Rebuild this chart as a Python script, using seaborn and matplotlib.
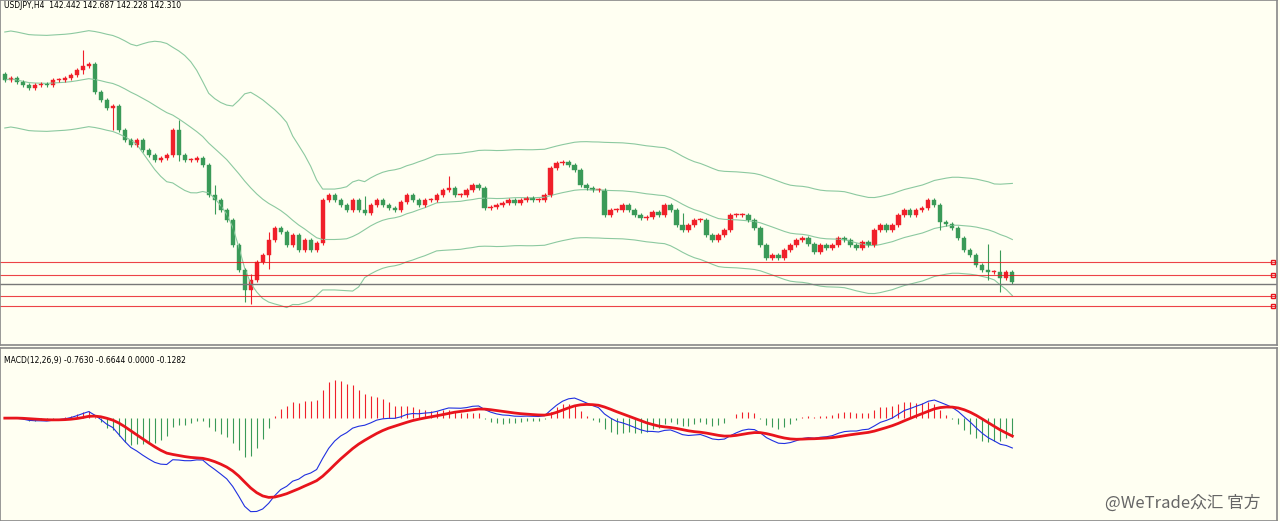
import numpy as np
import pandas as pd
import seaborn as sns
import matplotlib
matplotlib.use("Agg")
import matplotlib.pyplot as plt
from matplotlib import font_manager as fm

# closes (price units)
close_px = [80,78,82,85,88,85,84,85,80,80,78,75,70,66,64,92,100,108,106,130,140,145,140,150,155,160,158,155,130,155,
            160,160,158,165,195,200,210,220,245,270,290,280,262,255,240,228,232,245,235,250,240,250,243,200,195,200,205,210,200,210,
            213,205,200,205,208,210,202,195,200,205,200,200,195,190,188,195,195,190,185,188,208,207,205,203,200,203,200,198,200,200,
            195,168,163,162,165,170,185,188,190,190,215,210,210,205,210,215,218,217,212,215,205,210,225,230,225,220,220,235,240,235,
            230,215,215,215,220,228,245,258,255,258,250,245,240,238,244,252,245,248,245,238,240,245,248,242,245,230,225,230,225,215,
            210,215,210,208,200,205,222,224,228,238,250,255,265,270,272,272,278,272,282]
closes = [round(142.31 + (284 - y) * 0.025, 3) for y in close_px]
first_open = 147.55
long_wicks = {13: (0.35, 0.05), 18: (0.0, 0.5), 29: (0.2, 0.1), 35: (0.2, 0.3), 44: (0.15, 0.3), 60: (0.3, 0.0),
              40: (0.0, 0.25), 41: (0.1, 0.3), 74: (0.25, 0.0), 113: (0.25, 0.0), 156: (0.0, 0.15),
              164: (0.6, 0.15), 166: (0.5, 0.3)}
h_lines_red = [142.86, 142.535, 142.01, 141.76]
h_line_gray = 142.31

cjk = None
for f in fm.fontManager.ttflist:
    if "CJK" in f.name:
        cjk = f.name
        if "SC" in f.name:
            break
fam = [cjk, "DejaVu Sans"] if cjk else ["DejaVu Sans"]

bg = "#fffff2"
fig = plt.figure(figsize=(12.8, 5.21), dpi=100, facecolor=bg)
ax = fig.add_axes([0.0, 1 - 345/521, 0.998, 345/521])
ax2 = fig.add_axes([0.0, 0.0, 0.998, 173/521])
for a in (ax, ax2):
    a.set_facecolor(bg)
    a.set_xticks([]); a.set_yticks([])
    for s in a.spines.values():
        s.set_color("#888888"); s.set_linewidth(1.2)

n = len(closes)
idx = np.arange(n)
c = np.array(closes)
o = np.concatenate([[first_open], c[:-1]])
hi = np.maximum(o, c) + 0.05
lo = np.minimum(o, c) - 0.05
for k, (u, l) in long_wicks.items():
    hi[k] += u; lo[k] -= l

df = pd.DataFrame({"i": idx, "c": c})
mid = df["c"].rolling(20, min_periods=1).mean()
sd = df["c"].rolling(20, min_periods=2).std(ddof=0).fillna(0.6).clip(lower=0.6)
band_col = "#8cc9a0"
for series in (mid, mid + 2 * sd, mid - 2 * sd):
    sns.lineplot(x=idx, y=series.values, ax=ax, color=band_col, lw=0.8)

up = c >= o
col = np.where(up, "#f0202a", "#3a9a58")
ax.vlines(idx, lo, hi, colors=col, lw=0.8)
body = np.maximum(np.abs(c - o), 0.02)
ax.bar(idx, body, bottom=np.minimum(o, c), width=0.7, color=col, edgecolor=col, lw=0.3)

for yv in h_lines_red:
    ax.axhline(yv, color="#e8141c", lw=0.8, alpha=0.8)
    ax.plot([211.5], [yv], marker="s", ms=3, mfc="none", mec="#e8141c", clip_on=False)
ax.axhline(h_line_gray, color="#777777", lw=1.0)
ax.set_xlim(-0.8, -0.8 + 1278 / 6)
ax.set_ylim(142.31 - (345 - 284) * 0.025, 142.31 + 284 * 0.025)
ax.text(0.003, 0.997, "USDJPY,H4  142.442 142.687 142.228 142.310", transform=ax.transAxes,
        fontsize=5.5, va="top", ha="left")

ema12 = df["c"].ewm(span=12, adjust=False).mean()
ema26 = df["c"].ewm(span=26, adjust=False).mean()
macd = (ema12 - ema26).values
signal = pd.Series(macd).ewm(span=9, adjust=False).mean().values
hist = macd - signal
hcol = np.where(hist >= 0, "#f0202a", "#3a9a58")
ax2.vlines(idx, 0, hist * 1.6, colors=hcol, lw=0.8)
sns.lineplot(x=idx, y=macd, ax=ax2, color="#2030e0", lw=0.8)
sns.lineplot(x=idx, y=signal, ax=ax2, color="#e8141c", lw=2.0)
ax2.set_xlim(ax.get_xlim())
m = max(abs(macd).max(), abs(signal).max())
ax2.set_ylim(-1.1 * m, 0.75 * m)
ax2.text(0.003, 0.955, "MACD(12,26,9) -0.7630 -0.6644 0.0000 -0.1282", transform=ax2.transAxes,
         fontsize=5.5, va="top", ha="left")
fig.text(0.985, 0.035, "@WeTrade众汇 官方", ha="right", va="center", fontsize=12,
         color="#666666", family=fam)
fig.savefig("out.png", dpi=100, facecolor=bg)
